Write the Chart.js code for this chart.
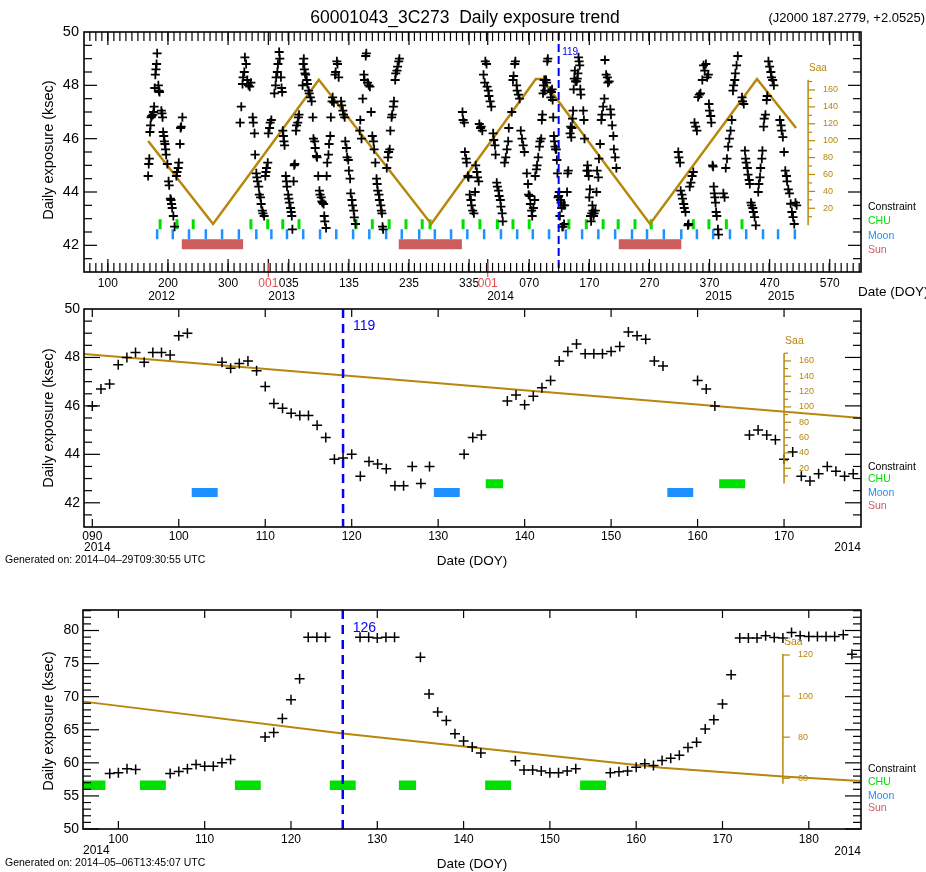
<!DOCTYPE html>
<html>
<head>
<meta charset="utf-8">
<title>60001043_3C273 Daily exposure trend</title>
<script src="https://cdn.jsdelivr.net/npm/chart.js@4.4.1/dist/chart.umd.min.js"></script>
<style>
  body { margin: 0; background: #fff; }
  #page { position: relative; width: 926px; height: 872px; overflow: hidden; }
  canvas { position: absolute; left: 0; }
</style>
</head>
<body>
<div id="page">
  <canvas id="trendChart" width="926" height="305" style="top:0px"></canvas>
  <canvas id="aprilChart" width="926" height="279" style="top:296px"></canvas>
  <canvas id="mayChart" width="926" height="276" style="top:596px"></canvas>
</div>
<script>
// ---------------------------------------------------------------------------
// Data
// ---------------------------------------------------------------------------

// Offsets (in days) used by the long term panel, x = days counted from 2012 DOY 0
const DAY_2013 = 366;
const DAY_2014 = 731;

// Panel 1: daily exposure (ksec), one [day, ksec] pair per cross, per visibility window
const trendWindow2012 = [
  [167,44.6],[168,45.05],[169,45.25],[170,46.25],[171,46.5],[172,46.8],[173,46.85],
  [175,46.9],[176,47.0],[177,47.2],[178,47.9],[179,48.4],[180,48.6],[181,48.8],[182,49.2],[184,48.0],[185,47.8],[186,47.75],
  [189,47.05],[190,46.95],[191,46.8],[192,46.25],[193,46.1],[194,45.9],[195,45.8],[196,45.6],[197,45.4],[199,45.05],
  [201,44.4],[202,44.25],[204,43.75],[205,43.7],[206,43.55],[207,43.4],[209,43.1],[211,42.7],
  [214,44.6],[215,44.75],[217,44.9],[218,45.1],[220,45.8],[221,46.4],[222,46.45],[224,46.8]
];
const trendWindow2013 = [
  [320,46.6],[322,47.2],[324,48.05],[325,48.3],[327,48.5],[328,49.05],[330,48.8],[332,48.2],[334,48.0],[336,47.95],[338,48.1],
  [341,46.8],[342,46.6],[344,46.2],[345,45.4],[347,44.7],[348,44.55],[349,44.4],[351,44.2],[352,43.9],[354,43.8],[355,43.55],[357,43.3],[358,43.2],[360,43.1],
  [362,44.6],[363,44.75],[364,44.9],[366,45.1],[367,46.2],[369,46.4],[370,46.6],[372,46.7],
  [377,47.7],[379,48.0],[380,48.3],[382,48.5],[383,48.8],[385,49.25],[386,49.0],[388,48.3],[389,47.9],[390,47.75],
  [391,46.3],[392,46.1],[393,45.9],[394,45.75],[396,44.6],[397,44.4],[398,44.2],[400,43.9],[401,43.75],[402,43.6],[404,43.4],[405,43.25],[406,43.1],[407,42.6],
  [409,44.4],[410,45.0],[411,45.05],[413,46.3],[414,46.5],[416,46.6],[417,46.8],[418,46.9],
  [424,48.0],[425,48.8],[426,49.0],[427,48.6],[428,48.45],[429,48.4],[431,48.2],[432,48.05],[434,47.8],[435,47.7],[437,47.55],[439,47.4],
  [441,46.8],[442,46.0],[444,45.9],[445,45.65],[447,45.35],[448,45.3],[450,44.6],[452,44.05],[453,43.9],[455,43.8],[456,43.65],[457,43.6],[459,43.55],[460,43.1],[461,42.9],[463,42.65],
  [464,44.6],[465,45.1],[467,45.4],[468,45.8],[470,46.1],[471,46.8],[473,47.4],[474,47.55],[476,47.35],[478,48.4],[479,48.5],[481,48.9],[482,48.8],[484,48.3],
  [488,47.4],[489,47.25],[491,47.05],[492,46.9],[494,46.8],[495,45.9],[497,45.65],[498,45.3],[500,45.2],[501,44.8],[503,44.5],[504,43.95],[506,43.7],[507,43.5],[509,43.3],[510,43.05],[512,42.8],
  [519,46.3],[520,46.7],[522,46.0],[524,47.5],[526,48.4],[527,48.2],[529,49.1],[530,49.2],[532,48.1],[534,48.0],[536,47.95],[538,47.0],[540,46.1],[542,45.9],[543,45.6],[545,45.1],
  [547,44.5],[548,44.3],[549,44.05],[551,43.9],[552,43.7],[554,43.5],[555,43.3],[556,43.2],[557,42.7],[558,42.6],
  [564,44.9],[566,45.3],[567,45.5],[569,45.6],[570,46.3],[572,46.8],[573,46.9],[575,47.2],[576,47.4],[578,48.2],[579,48.45],[581,48.55],[582,48.7],[584,48.9],[585,49.0]
];
const trendWindow2014 = [
  [690,47.0],[691,46.7],[693,46.6],[694,45.5],[696,45.25],[697,45.1],[699,44.6],[700,44.55],[702,43.9],[704,43.7],[705,43.5],[707,43.3],[709,43.2],
  [711,44.0],[712,45.0],[714,44.75],[715,44.55],[717,44.4],[718,46.55],[720,46.4],[721,46.45],[723,46.3],[725,48.4],[727,48.1],[728,48.9],[730,48.8],[731,47.95],[733,47.8],[734,47.6],[736,47.4],[738,47.2],
  [741,46.2],[742,45.95],[744,45.75],[745,45.4],[747,44.35],[748,44.2],[750,44.05],[751,43.85],[753,43.7],[754,43.45],[756,43.2],[757,42.9],[760,45.1],[762,45.3],[764,45.6],[766,45.9],[767,46.4],
  [772,47.0],[774,48.2],[775,48.35],[777,48.8],[778,48.9],[780,48.0],[781,47.8],[783,47.65],[785,47.5],[787,46.3],[789,46.0],[791,45.75],[793,45.5],
  [797,44.7],[799,44.3],[800,43.9],[802,43.85],[803,43.55],[805,43.3],[806,43.1],[808,43.4],[810,43.7],[811,44.6],[813,44.85],[814,45.0],[816,45.3],[818,45.7],[819,45.9],
  // days 821-909 are the ones of the April panel (added below)
  [911,43.3],[913,44.0],[914,44.8],[916,44.55],[917,45.25],[919,45.8],[921,46.7],[922,46.9],[924,47.2],[926,47.5],[927,48.95],[929,48.4],[931,48.3],[932,48.1],[934,48.15],
  [936,47.1],[937,46.9],[939,46.5],[941,46.1],[942,45.6],[944,45.3],[946,44.9]
];
const trendWindow2015 = [
  [1049,45.5],[1050,45.3],[1052,45.1],[1053,44.05],[1055,43.9],[1056,43.75],[1058,43.55],[1059,43.4],[1061,43.25],
  [1065,42.75],[1066,42.8],[1068,44.2],[1070,44.35],[1072,44.6],[1074,44.75],[1076,46.6],[1078,46.45],[1080,46.3],[1082,47.56],[1084,47.65],[1086,47.7],[1089,48.2],[1091,48.75],[1093,48.55],[1095,48.8],[1097,48.3],[1099,48.4],
  [1100,47.3],[1101,47.05],[1103,46.85],[1104,46.6],[1106,45.0],[1107,44.95],[1108,44.2],[1109,43.95],[1110,43.8],[1111,43.6],[1112,43.25],[1113,43.1],[1115,42.6],[1116,42.4],
  [1124,43.95],[1126,43.8],[1128,44.9],[1130,45.25],[1132,45.7],[1134,46.0],[1136,46.3],[1138,46.7],[1140,47.8],[1141,48.0],[1143,48.2],[1144,48.45],[1146,48.75],[1148,49.1],
  [1155,47.55],[1156,47.4],[1158,47.3],[1160,45.55],[1161,45.25],[1162,45.1],[1164,44.9],[1165,44.65],[1167,44.45],[1168,44.3],[1170,43.6],[1171,43.5],[1173,43.4],[1174,43.25],[1176,43.06],[1178,42.75],
  [1182,44.0],[1183,44.3],[1185,44.55],[1186,44.9],[1188,45.25],[1189,45.55],[1191,46.45],[1192,46.75],[1194,46.9],[1196,47.45],[1197,47.6],[1199,48.9],[1201,48.7],[1203,48.5],[1204,48.3],[1206,48.2],[1208,48.0],
  [1218,46.7],[1220,46.5],[1221,46.3],[1223,46.06],[1225,45.5],[1227,44.8],[1229,44.6],[1230,44.4],[1232,44.1],[1234,43.95],[1236,43.56],[1238,43.25],[1240,43.06],[1242,42.8],[1244,43.6],[1246,43.5]
];
// Saa angle (deg), [day, value]
const trendSaa = [[167,99.6],[275,1.4],[451,172],[638,1.4],[812,173],[822,173],[1002,1.4],[1180,173],[1245,115]];
// constraint days
const trendChu = [187,215,242,338,366,391,418,513,540,568,596,623,636,691,719,748,774,801,867,896,924,949,977,1004,1074,1100,1129,1155];
const trendMoon = [182,208,235,263,290,318,347,372,398,425,453,480,508,535,563,589,618,644,671,698,726,754,781,807,834,862,889,916,944,972,997,1025,1054,1080,1107,1135,1162,1190,1215,1243];
const trendSun = [[223,325],[584,689],[950,1054]];
// axis labels
const trendTickDays = [100,200,300,367,401,501,601,701,732,801,901,1001,1101,1201,1301];
const trendTickLabels = ['100','200','300','001','035','135','235','335','001','070','170','270','370','470','570'];
const trendYearDays = [167,367,731,1094,1198];
const trendYearLabels = ['2012','2013','2014','2015','2015'];
const trendToday = DAY_2014 + 119;

// Panel 2: 2014 DOY 89 - 179, generated 2014-04-29
const aprilDays = [90,91,92,93,94,95,96,97,98,99,100,101,
  105,106,107,108,109,110,111,112,113,114,115,116,117,118,119,120,121,122,123,124,125,126,127,128,129,
  133,134,135,138,139,140,141,142,143,144,145,146,147,148,149,150,151,152,153,154,155,156,
  160,161,162,166,167,168,169,170,171,172,173,174,175,176,177,178];
const aprilKsec = [46.0,46.7,46.9,47.7,48.0,48.2,47.8,48.2,48.2,48.1,48.9,49.0,
  47.8,47.55,47.75,47.85,47.45,46.8,46.1,45.9,45.7,45.6,45.6,45.2,44.7,43.8,43.85,44.0,43.1,43.7,43.6,43.4,42.7,42.7,43.5,42.8,43.5,
  44.0,44.7,44.8,46.2,46.45,46.05,46.4,46.75,47.05,47.85,48.25,48.55,48.15,48.15,48.15,48.25,48.45,49.05,48.9,48.75,47.85,47.65,
  47.05,46.7,46.0,44.8,45.0,44.8,44.6,43.8,44.1,43.1,42.9,43.2,43.5,43.3,43.1,43.2];
const aprilSaa = [[89,169],[179,85.5]];
const aprilChu = [[135.5,137.5],[162.5,165.5]];
const aprilMoon = [[101.5,104.5],[129.5,132.5],[156.5,159.5]];
const aprilToday = 119;

// Panel 3: 2014 DOY 96 - 186, generated 2014-05-06
const mayDays = [99,100,101,102,106,107,108,109,110,111,112,113,117,118,119,120,121,122,123,124,
  128,129,130,131,132,135,136,137,138,139,140,141,142,146,147,148,149,150,151,152,153,
  157,158,159,160,161,162,163,164,165,166,167,168,169,170,171,172,173,174,175,176,177,178,179,180,181,182,183,184,185];
const mayKsec = [58.4,58.5,59.1,59.0,58.4,58.7,59.1,59.75,59.5,59.5,60.0,60.5,63.9,64.6,66.7,69.55,72.7,79.0,79.0,79.0,
  79.0,79.0,78.85,79.0,79.0,75.95,70.4,67.7,66.4,64.4,63.3,62.4,61.5,60.3,58.9,58.9,58.75,58.5,58.5,58.75,59.1,
  58.5,58.65,58.75,59.35,59.85,59.6,60.35,60.7,61.15,62.3,63.1,65.1,66.5,68.9,73.3,78.85,78.85,78.85,79.2,78.95,78.85,79.7,79.2,79.1,79.1,79.1,79.1,79.35,76.4];
const maySaa = [[96,97.3],[126,81.8],[163,65.1],[177,60.8],[186,58.7]];
const mayChu = [[95.5,98.5],[102.5,105.5],[113.5,116.5],[124.5,127.5],[132.5,134.5],[142.5,145.5],[153.5,156.5]];
const mayToday = 126;

// ---------------------------------------------------------------------------
// Styling and helpers
// ---------------------------------------------------------------------------
const FONT = '"Liberation Sans", Arial, Helvetica, sans-serif';
Chart.defaults.font.family = FONT;
Chart.defaults.color = '#000';

const GOLD = '#b8860b';
const CHU_GREEN = '#00e000';
const MOON_BLUE = '#1e90ff';
const SUN_RED = '#cd5c5c';
const MARK_BLUE = '#0000ff';

const pairs = list => list.map(([x, y]) => ({ x, y }));
const zipXY = (xs, ys, shift = 0) => xs.map((x, i) => ({ x: x + shift, y: ys[i] }));
// horizontal bars (constraint intervals) drawn as thick line pieces
function segments(ranges, level) {
  const pts = [];
  ranges.forEach(([a, b]) => pts.push({ x: a, y: level }, { x: b, y: level }, { x: b, y: null }));
  return pts;
}
// short vertical strokes, one per constraint day
function strokes(days, lo, hi) {
  const pts = [];
  days.forEach(d => pts.push({ x: d, y: lo }, { x: d, y: hi }, { x: d, y: null }));
  return pts;
}
function steps(from, to, step, skip) {
  const out = [];
  for (let v = from; v <= to + 1e-9; v += step) {
    const r = +v.toFixed(3);
    if (!skip || !skip(r)) out.push(r);
  }
  return out;
}

const crosses = (data, r, w) => ({
  data, yAxisID: 'y', showLine: false, pointStyle: 'cross',
  pointRadius: r, pointBorderWidth: w, borderColor: '#000', backgroundColor: '#000'
});
const strokeSet = (data, color, width, axis = 'y') => ({
  data, yAxisID: axis, showLine: true, spanGaps: false, pointRadius: 0,
  borderColor: color, borderWidth: width, borderCapStyle: 'butt', tension: 0
});

// draws the inward ticks, frame, Saa axis, marker line and the loose texts
function decorPlugin(cfg) {
  return {
    id: 'decor',
    afterDatasetsDraw(chart) {
      const ctx = chart.ctx, a = chart.chartArea;
      const xs = chart.scales.x, ys = chart.scales.y, ss = chart.scales.saa;
      const line = (x1, y1, x2, y2) => { ctx.beginPath(); ctx.moveTo(x1, y1); ctx.lineTo(x2, y2); ctx.stroke(); };
      ctx.save();

      // dashed line on the current day
      const m = cfg.marker, mx = xs.getPixelForValue(m.day);
      ctx.strokeStyle = MARK_BLUE; ctx.lineWidth = m.width; ctx.setLineDash(m.dash);
      line(mx, a.top, mx, a.bottom);
      ctx.setLineDash([]);
      ctx.fillStyle = MARK_BLUE; ctx.font = m.font; ctx.textAlign = 'left'; ctx.textBaseline = 'middle';
      ctx.fillText(m.label, mx + m.dx, a.top + m.dy);

      // tick marks point inwards on all four sides
      ctx.strokeStyle = '#000'; ctx.lineWidth = 1.2;
      [[cfg.xMajor, cfg.xMajorLen], [cfg.xMinor, cfg.xMinorLen]].forEach(([vals, len]) => {
        vals.forEach(v => {
          const x = xs.getPixelForValue(v);
          line(x, a.bottom, x, a.bottom - len);
          line(x, a.top, x, a.top + len);
        });
      });
      [[cfg.yMajor, cfg.yMajorLen], [cfg.yMinor, cfg.yMinorLen]].forEach(([vals, len]) => {
        vals.forEach(v => {
          const y = ys.getPixelForValue(v);
          line(a.left, y, a.left + len, y);
          line(a.right, y, a.right - len, y);
        });
      });
      // new year marks
      ctx.strokeStyle = '#e05050';
      (cfg.yearMarks || []).forEach(v => {
        const x = xs.getPixelForValue(v);
        line(x, a.bottom - 9, x, a.bottom + 5);
      });
      ctx.strokeStyle = '#000'; ctx.lineWidth = 1.6;
      ctx.strokeRect(a.left, a.top, a.right - a.left, a.bottom - a.top);

      // Saa axis drawn inside the plot
      const s = cfg.saaAxis, sx = xs.getPixelForValue(s.day);
      const top = ss.getPixelForValue(s.hi), bot = ss.getPixelForValue(s.lo);
      ctx.strokeStyle = GOLD; ctx.fillStyle = GOLD; ctx.lineWidth = 1.5;
      line(sx, top, sx, bot);
      ctx.lineWidth = 1.2; ctx.font = s.font; ctx.textAlign = 'left'; ctx.textBaseline = 'middle';
      s.minor.forEach(v => { const y = ss.getPixelForValue(v); line(sx, y, sx + 4, y); });
      s.labels.forEach(v => {
        const y = ss.getPixelForValue(v);
        line(sx, y, sx + 7, y);
        ctx.fillText(String(v), sx + 15, y);
      });
      ctx.font = s.titleFont;
      ctx.fillText('Saa', sx + 1, top - 12);

      // free texts (page coordinates)
      cfg.texts.forEach(t => {
        ctx.save();
        ctx.font = t.font; ctx.fillStyle = t.color || '#000';
        ctx.textAlign = t.align || 'left'; ctx.textBaseline = 'middle';
        const x = t.day !== undefined ? xs.getPixelForValue(t.day) : t.x;
        const y = t.y - cfg.top;
        if (t.rot) { ctx.translate(x, y); ctx.rotate(-Math.PI / 2); ctx.fillText(t.text, 0, 0); }
        else ctx.fillText(t.text, x, y);
        ctx.restore();
      });
      ctx.restore();
    }
  };
}

function panel(id, p) {
  return new Chart(document.getElementById(id), {
    type: 'scatter',
    data: { datasets: p.datasets },
    options: {
      responsive: false,
      animation: false,
      events: [],
      layout: { padding: { left: 0, right: 65, top: p.top, bottom: 0 } },
      plugins: { legend: { display: false }, tooltip: { enabled: false } },
      scales: {
        x: {
          type: 'linear', min: p.xMin, max: p.xMax,
          grid: { display: false, drawTicks: false }, border: { display: false },
          afterBuildTicks: ax => { ax.ticks = p.xTicks.map(v => ({ value: v })); },
          afterFit: ax => { ax.height = p.xHeight; },
          ticks: { autoSkip: false, maxRotation: 0, minRotation: 0, padding: p.xPad, font: { size: 12 },
                   color: p.xColor || '#000', callback: p.xLabel }
        },
        y: {
          type: 'linear', position: 'left', min: p.yMin, max: p.yMax,
          grid: { display: false, drawTicks: false }, border: { display: false },
          afterBuildTicks: ax => { ax.ticks = p.yTicks.map(v => ({ value: v })); },
          afterFit: ax => { ax.width = p.left; },
          ticks: { padding: p.yPad, font: { size: p.yFont }, color: '#000' }
        },
        saa: { type: 'linear', axis: 'y', position: 'right', display: false, min: p.saaMin, max: p.saaMax }
      }
    },
    plugins: [decorPlugin(p.decor)]
  });
}

const legend = (y0, dy) => [
  { text: 'Constraint', x: 868, y: y0, font: '10.5px ' + FONT, color: '#000' },
  { text: 'CHU', x: 868, y: y0 + dy[0], font: '10.5px ' + FONT, color: CHU_GREEN },
  { text: 'Moon', x: 868, y: y0 + dy[1], font: '10.5px ' + FONT, color: MOON_BLUE },
  { text: 'Sun', x: 868, y: y0 + dy[2], font: '10.5px ' + FONT, color: SUN_RED }
];
const yTitle = y => ({ text: 'Daily exposure (ksec)', x: 49, y, rot: true, align: 'center', font: '14.5px ' + FONT });

// ---------------------------------------------------------------------------
// Panel 1: long-term trend
// ---------------------------------------------------------------------------
const trendPoints = pairs(trendWindow2012)
  .concat(pairs(trendWindow2013))
  .concat(pairs(trendWindow2014))
  .concat(zipXY(aprilDays, aprilKsec, DAY_2014))
  .concat(pairs(trendWindow2015));

panel('trendChart', {
  top: 32, left: 84, xHeight: 33, xPad: 4, yPad: 5, yFont: 14.5,
  xMin: 60.3, xMax: 1353, yMin: 41, yMax: 50, saaMin: -55.4, saaMax: 228.6,
  xTicks: trendTickDays, yTicks: [42, 44, 46, 48, 50],
  xLabel: (v, i) => trendTickLabels[i],
  xColor: c => trendTickLabels[c.index] === '001' ? '#e05050' : '#000',
  datasets: [
    crosses(trendPoints, 4.5, 1.8),
    strokeSet(pairs(trendSaa), GOLD, 2.5, 'saa'),
    strokeSet(strokes(trendChu, 42.6, 42.98), CHU_GREEN, 3),
    strokeSet(strokes(trendMoon, 42.23, 42.6), MOON_BLUE, 2.5),
    strokeSet(segments(trendSun, 42.04), SUN_RED, 10)
  ],
  decor: {
    top: 0,
    marker: { day: trendToday, label: '119', width: 2, dash: [8, 4], font: '10px ' + FONT, dx: 3.5, dy: 20 },
    xMajor: trendTickDays, xMajorLen: 13,
    xMinor: steps(70, 1350, 10), xMinorLen: 9,
    yMajor: [42, 44, 46, 48], yMajorLen: 13,
    yMinor: steps(41.5, 49.5, 0.5, v => v % 2 === 0), yMinorLen: 8,
    yearMarks: [DAY_2013 + 1, DAY_2014 + 1],
    saaAxis: { day: 1265, lo: 0, hi: 172, labels: steps(20, 160, 20), minor: steps(10, 170, 20),
               font: '9px ' + FONT, titleFont: '10px ' + FONT },
    texts: [
      { text: '60001043_3C273  Daily exposure trend', x: 465, y: 18, align: 'center', font: '17.5px ' + FONT },
      { text: '(J2000 187.2779, +2.0525)', x: 925, y: 18, align: 'right', font: '13px ' + FONT },
      yTitle(150),
      { text: 'Date (DOY)', x: 858, y: 292, font: '13.5px ' + FONT },
      ...trendYearDays.map((d, i) => ({ text: trendYearLabels[i], day: d, y: 297, font: '12px ' + FONT })),
      ...legend(207, [14, 29, 43])
    ]
  }
});

// ---------------------------------------------------------------------------
// Panel 2: 2014-04-29 window
// ---------------------------------------------------------------------------
panel('aprilChart', {
  top: 13, left: 84, xHeight: 48, xPad: 2, yPad: 4, yFont: 14,
  xMin: 89.04, xMax: 178.9, yMin: 41, yMax: 50, saaMin: -56.6, saaMax: 227.7,
  xTicks: steps(90, 170, 10), yTicks: [42, 44, 46, 48, 50],
  xLabel: v => String(v).padStart(3, '0'),
  datasets: [
    crosses(zipXY(aprilDays, aprilKsec), 5, 1.5),
    strokeSet(pairs(aprilSaa), GOLD, 2, 'saa'),
    strokeSet(segments(aprilChu, 42.79), CHU_GREEN, 9),
    strokeSet(segments(aprilMoon, 42.42), MOON_BLUE, 9)
  ],
  decor: {
    top: 296,
    marker: { day: aprilToday, label: '119', width: 2.5, dash: [9, 6], font: '14px ' + FONT, dx: 10, dy: 17 },
    xMajor: steps(90, 170, 10), xMajorLen: 8, xMinor: [], xMinorLen: 0,
    yMajor: [42, 44, 46, 48], yMajorLen: 16,
    yMinor: steps(41.5, 49.5, 0.5, v => v % 2 === 0), yMinorLen: 8,
    saaAxis: { day: 170, lo: 0, hi: 170, labels: steps(20, 160, 20), minor: steps(10, 170, 20),
               font: '9px ' + FONT, titleFont: '10.5px ' + FONT },
    texts: [
      yTitle(418),
      { text: 'Date (DOY)', x: 472, y: 561, align: 'center', font: '13.5px ' + FONT },
      { text: '2014', x: 84, y: 548, font: '12px ' + FONT },
      { text: '2014', x: 861, y: 548, align: 'right', font: '12px ' + FONT },
      { text: 'Generated on: 2014\u201304\u201329T09:30:55 UTC', x: 5, y: 560, font: '10.5px ' + FONT },
      ...legend(467, [12.5, 26, 39])
    ]
  }
});

// ---------------------------------------------------------------------------
// Panel 3: 2014-05-06 window
// ---------------------------------------------------------------------------
panel('mayChart', {
  top: 14, left: 83, xHeight: 43, xPad: 3, yPad: 4, yFont: 14,
  xMin: 95.9, xMax: 186.05, yMin: 50, yMax: 83.1, saaMin: 35.3, saaMax: 141.9,
  xTicks: steps(100, 180, 10), yTicks: steps(50, 80, 5),
  xLabel: v => String(v),
  datasets: [
    crosses(zipXY(mayDays, mayKsec), 5, 1.5),
    strokeSet(pairs(maySaa), GOLD, 2, 'saa'),
    strokeSet(segments(mayChu, 56.6), CHU_GREEN, 9.5)
  ],
  decor: {
    top: 596,
    marker: { day: mayToday, label: '126', width: 2.5, dash: [9, 6], font: '14px ' + FONT, dx: 10, dy: 18 },
    xMajor: steps(100, 180, 10), xMajorLen: 8, xMinor: [], xMinorLen: 0,
    yMajor: steps(50, 80, 5), yMajorLen: 16,
    yMinor: steps(51, 83, 1, v => v % 5 === 0), yMinorLen: 8,
    saaAxis: { day: 177, lo: 57.3, hi: 120.5, labels: [60, 80, 100, 120], minor: [],
               font: '9px ' + FONT, titleFont: '10.5px ' + FONT },
    texts: [
      yTitle(721),
      { text: 'Date (DOY)', x: 472, y: 864, align: 'center', font: '13.5px ' + FONT },
      { text: '2014', x: 83, y: 851, font: '12px ' + FONT },
      { text: '2014', x: 861, y: 852, align: 'right', font: '12px ' + FONT },
      { text: 'Generated on: 2014\u201305\u201306T13:45:07 UTC', x: 5, y: 863, font: '10.5px ' + FONT },
      ...legend(769, [13, 27, 39])
    ]
  }
});
</script>
</body>
</html>
